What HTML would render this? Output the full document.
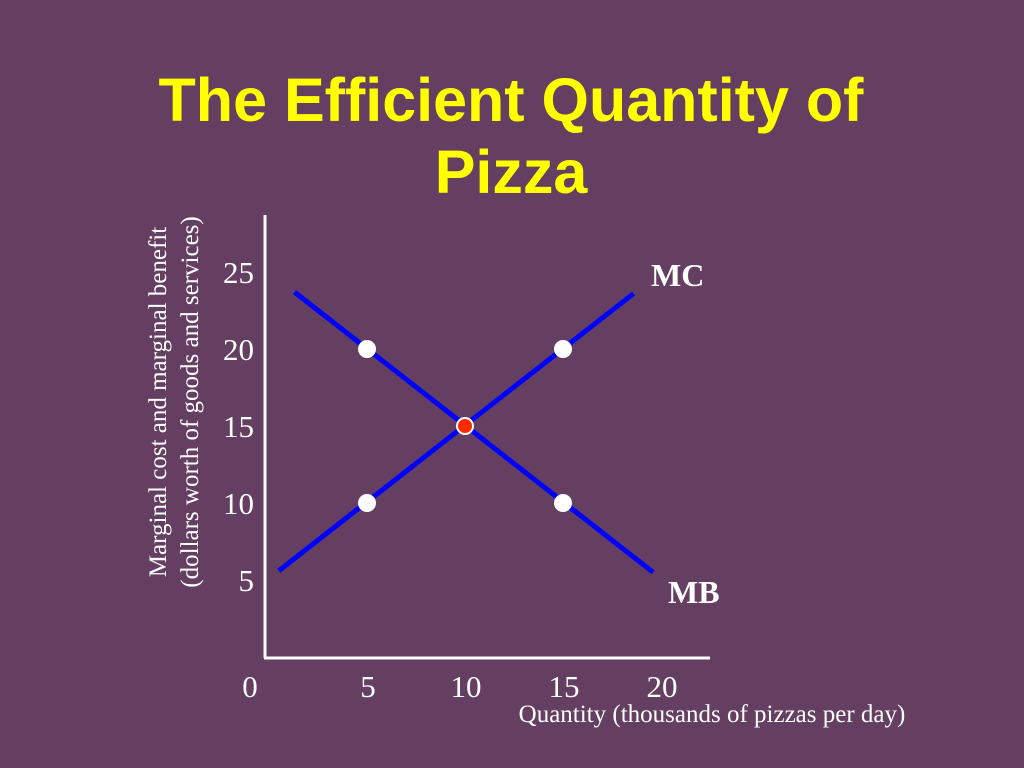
<!DOCTYPE html>
<html><head><meta charset="utf-8"><style>
html,body{margin:0;padding:0;background:#653f62;}
svg{display:block}
</style></head><body>
<svg width="1024" height="768" viewBox="0 0 1024 768" xmlns="http://www.w3.org/2000/svg">
<rect width="1024" height="768" fill="#653f62"/>
<text x="511" y="121" text-anchor="middle" font-family="Liberation Sans, sans-serif" font-weight="bold" font-size="61" fill="#ffff00">The Efficient Quantity of</text>
<text x="511" y="193" text-anchor="middle" font-family="Liberation Sans, sans-serif" font-weight="bold" font-size="61" fill="#ffff00">Pizza</text>
<g font-family="Liberation Serif, serif" font-size="25" fill="#fff" text-anchor="middle">
<text transform="translate(166,402) rotate(-90)">Marginal cost and marginal benefit</text>
<text transform="translate(198,402) rotate(-90)">(dollars worth of goods and services)</text>
</g>
<text x="712" y="722" text-anchor="middle" font-family="Liberation Serif, serif" font-size="25" fill="#fff">Quantity (thousands of pizzas per day)</text>
<g id="plot"></g>
</svg>
<script>
const xTicks=[5,10,15,20];
const yTicks=[5,10,15,20,25];
const mcX=[0.5,18.6];
const mcY=[5.6,23.6];
const mbX=[1.3,19.6];
const mbY=[23.7,5.5];
const pointX=[5,15,10,5,15];
const pointY=[20,20,15,10,10];
const pointRed=[false,false,true,false,false];
const X=v=>269+v*19.6;
const Y=v=>657-v*15.4;
const NS='http://www.w3.org/2000/svg';
const g=document.getElementById('plot');
function mk(t,a){const e=document.createElementNS(NS,t);for(const k in a)e.setAttribute(k,a[k]);g.appendChild(e);return e;}
let e=mk('line',{x1:265,y1:215,x2:265,y2:658,stroke:'#fff','stroke-width':3});


e=mk('line',{x1:264,y1:658,x2:710,y2:658,stroke:'#fff','stroke-width':3});


e=mk('text',{x:250,y:697,'text-anchor':'middle','font-family':'Liberation Serif, serif','font-size':31,fill:'#fff'});e.textContent='0';


xTicks.forEach(v=>{const t=mk('text',{x:X(v)+1,y:697,'text-anchor':'middle','font-family':'Liberation Serif, serif','font-size':31,fill:'#fff'});t.textContent=v;

});
yTicks.forEach(v=>{const t=mk('text',{x:254,y:Y(v)+11,'text-anchor':'end','font-family':'Liberation Serif, serif','font-size':31,fill:'#fff'});t.textContent=v;

});
e=mk('line',{x1:X(mcX[0]),y1:Y(mcY[0]),x2:X(mcX[1]),y2:Y(mcY[1]),stroke:'#0000ff','stroke-width':5});


e=mk('line',{x1:X(mbX[0]),y1:Y(mbY[0]),x2:X(mbX[1]),y2:Y(mbY[1]),stroke:'#0000ff','stroke-width':5});


pointX.forEach((v,i)=>{const c=mk('circle',{cx:X(v),cy:Y(pointY[i]),r:pointRed[i]?8:9,fill:pointRed[i]?'#ff2a00':'#fff',stroke:pointRed[i]?'#fff':'none','stroke-width':2});

});
e=mk('text',{x:651,y:286,'font-family':'Liberation Serif, serif','font-weight':'bold','font-size':32,fill:'#fff'});e.textContent='MC';


e=mk('text',{x:668,y:603,'font-family':'Liberation Serif, serif','font-weight':'bold','font-size':32,fill:'#fff'});e.textContent='MB';


</script>
</body></html>
